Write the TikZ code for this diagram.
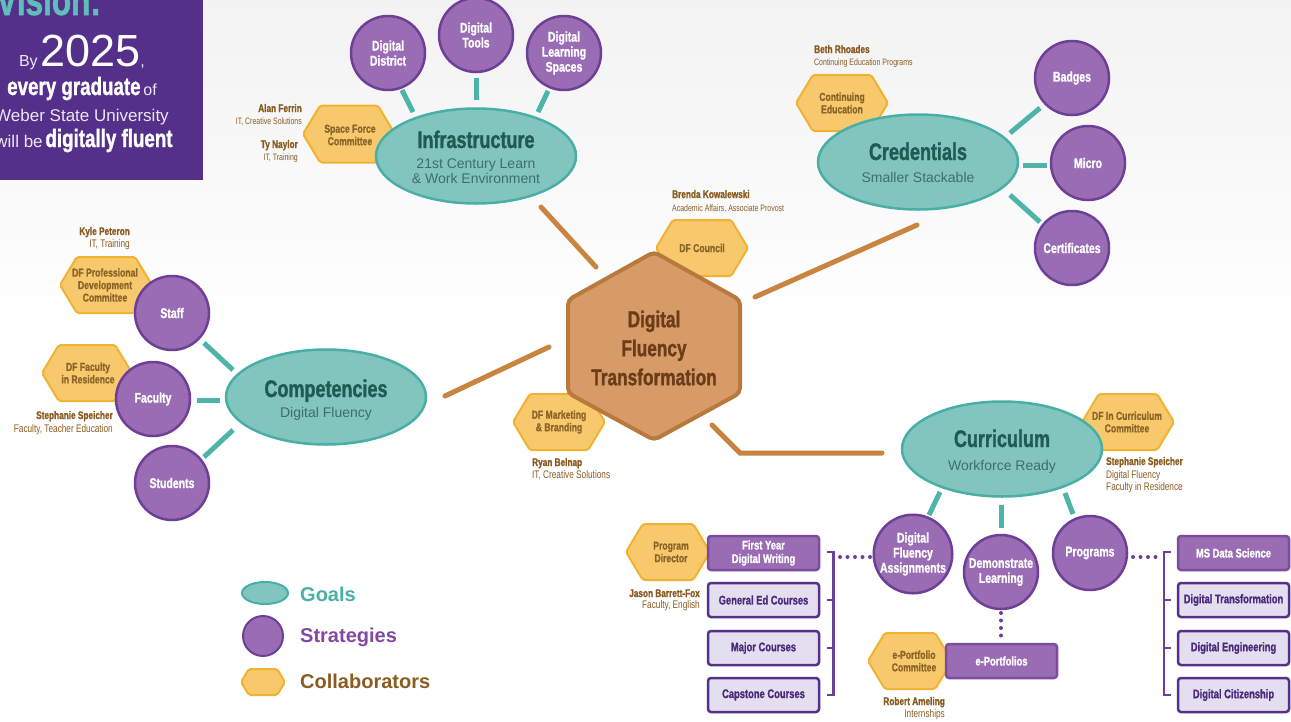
\documentclass[tikz,border=0pt]{standalone}
\usepackage{fontspec}
\setmainfont{Liberation Sans}
\newfontfamily\cnd[FakeStretch=0.75, BoldFeatures={FakeBold=1.2}]{Liberation Sans}
\usetikzlibrary{calc,shapes.geometric}
\definecolor{visP}{HTML}{54308A}
\definecolor{visT}{HTML}{5DBFB7}
\definecolor{goalF}{HTML}{82C5BF}
\definecolor{goalB}{HTML}{48AFA7}
\definecolor{goalT}{HTML}{1E5B52}
\definecolor{goalS}{HTML}{3F6E69}
\definecolor{stratF}{HTML}{9A6CB4}
\definecolor{stratB}{HTML}{6E3F97}
\definecolor{hexF}{HTML}{F8C96C}
\definecolor{hexB}{HTML}{F1B232}
\definecolor{hexT}{HTML}{8B6528}
\definecolor{nameT}{HTML}{8A5C22}
\definecolor{tealL}{HTML}{4DB4AB}
\definecolor{orangeL}{HTML}{C9853F}
\definecolor{cenF}{HTML}{D69B66}
\definecolor{cenB}{HTML}{B9783C}
\definecolor{cenT}{HTML}{6B3C18}
\definecolor{boxLF}{HTML}{E4DFF0}
\definecolor{boxLB}{HTML}{55308A}
\definecolor{boxDB}{HTML}{7B4CA0}
\definecolor{boxT}{HTML}{4A2A7A}
\definecolor{legS}{HTML}{8348A2}
\newcommand\fsz[2]{\fontsize{#1}{#2}\selectfont}
\newcommand\hexa[4]{\path[hexsty] ({#1-#3},#2) -- ({#1-#3+0.6*#4},{#2-#4}) -- ({#1+#3-0.6*#4},{#2-#4}) -- ({#1+#3},#2) -- ({#1+#3-0.6*#4},{#2+#4}) -- ({#1-#3+0.6*#4},{#2+#4}) -- cycle;}
\begin{document}
\begin{tikzpicture}[x=1pt,y=-1pt,
  goal/.style={ellipse, draw=goalB, fill=goalF, line width=2.5pt, minimum width=200pt, minimum height=95pt, inner sep=0pt},
  gtitle/.style={anchor=base, inner sep=0pt, font=\cnd\bfseries\fsz{24}{26}, text=goalT},
  gsub/.style={anchor=base, inner sep=0pt, font=\fsz{14}{16}, text=goalS},
  strat/.style={circle, draw=stratB, fill=stratF, line width=2.5pt, minimum size=74pt, inner sep=0pt, align=center, text=white, font=\cnd\bfseries\fsz{14}{15}},
  hexsty/.style={draw=hexB, fill=hexF, line width=2pt, rounded corners=2pt},
  hext/.style={align=center, inner sep=0pt, text=hexT, font=\cnd\bfseries\fsz{11.5}{12.5}},
  pname/.style={inner sep=0pt, text=nameT, font=\cnd\bfseries\fsz{11}{12}},
  paff/.style={inner sep=0pt, text=nameT, font=\cnd\fsz{9.3}{10}},
  pafb/.style={inner sep=0pt, text=nameT, font=\cnd\fsz{11}{12}},
  tline/.style={draw=tealL, line width=5pt},
  oline/.style={draw=orangeL, line width=5pt, line cap=round},
  boxd/.style={rectangle, rounded corners=3pt, draw=boxDB, fill=stratF, line width=2.5pt, minimum width=111pt, minimum height=34pt, inner sep=0pt, align=center, text=white, font=\cnd\bfseries\fsz{12.5}{13.5}},
  boxl/.style={boxd, draw=boxLB, fill=boxLF, text=boxT},
  dotl/.style={draw=stratB, line width=4pt, line cap=round, dash pattern=on 0pt off 7.5pt},
  brk/.style={draw=stratB, line width=2.5pt},
  vtxt/.style={anchor=base, inner sep=0pt, text=white!88!visP},
]
\useasboundingbox (0,0) rectangle (1291,721);
% background
\fill[top color=black!5, bottom color=white] (0,0) rectangle (1291,330);
\fill[white] (0,330) rectangle (1291,721);
% vision box
\fill[visP] (0,0) rectangle (203,180);
\node[anchor=base east, inner sep=0pt, font=\cnd\bfseries\fsz{42}{44}, text=visT] (vis) at (101,15) {Vision:};
\node[vtxt] (v1) at (82,66) {{\fsz{16}{18}By\,}{\color{white}\fsz{45}{48}2025}{\fsz{16}{18},}};
\node[vtxt] (v2) at (82,95) {{\color{white}\cnd\bfseries\fsz{25}{27}every graduate} {\fsz{16}{18}of}};
\node[vtxt] (v3) at (82,121) {\fsz{17}{19}Weber State University};
\node[vtxt] (v4) at (84,147) {{\fsz{17}{19}will be} {\color{white}\cnd\bfseries\fsz{25}{27}digitally fluent}};
% collaborator hexagons
\hexa{349}{134}{46}{28.5}
\hexa{842}{103}{46}{28}
\hexa{106}{285}{46}{28}
\hexa{87}{373}{45}{28}
\hexa{702}{248}{46}{28}
\hexa{559}{422}{46}{28}
\hexa{1128}{422}{46}{28}
\hexa{668}{552}{42}{28}
\hexa{910}{661}{42}{28}
% goals
\node[goal] (infra) at (476,156) {};
\node[goal] (cred) at (918,162) {};
\node[goal] (comp) at (326,397) {};
\node[goal] (curr) at (1002,449) {};
% strategies
\node[strat] (dd) at (388,53) {Digital\\District};
\node[strat] (dt) at (476,35) {Digital\\Tools};
\node[strat] (dls) at (564,53) {Digital\\Learning\\Spaces};
\node[strat] (badges) at (1072,78) {Badges};
\node[strat] (micro) at (1088,163) {Micro};
\node[strat] (cert) at (1072,248) {Certificates};
\node[strat] (staff) at (172,313) {Staff};
\node[strat] (fac) at (153,399) {Faculty};
\node[strat] (stu) at (172,483) {Students};
\node[strat] (dfa) at (913,554) {Digital\\Fluency\\Assignments};
\node[strat] (dem) at (1001,572) {Demonstrate\\Learning};
\node[strat] (prog) at (1090,553) {Programs};
% boxes
\node[boxd] (fy) at (763.5,553) {First Year\\Digital Writing};
\node[boxl] (ge) at (763.5,600) {General Ed Courses};
\node[boxl] (mc) at (763.5,648) {Major Courses};
\node[boxl] (cc) at (763.5,695) {Capstone Courses};
\node[boxd] (ms) at (1233.5,553) {MS Data Science};
\node[boxl] (dtr) at (1233.5,600) {Digital Transformation};
\node[boxl] (den) at (1233.5,648) {Digital Engineering};
\node[boxl] (dci) at (1233.5,695) {Digital Citizenship};
\node[boxd] (ep) at (1001.5,661) {e-Portfolios};
% center hexagon
\path[draw=cenB, fill=cenF, line width=4pt, rounded corners=5pt] (654,252) -- (740,300) -- (740,393) -- (654,440) -- (568,393) -- (568,300) -- cycle;
\node[align=center, inner sep=0pt, text=cenT, font=\cnd\bfseries\fsz{23}{29}] (dft) at (654,348) {Digital\\Fluency\\Transformation};
% orange connectors
\draw[oline] ($(infra)+(65,51)$) -- ($(dft)+(-58,-81)$);
\draw[oline] ($(cred)+(-1,63)$) -- ($(dft)+(101,-51)$);
\draw[oline] ($(dft)+(-105,-1)$) -- ($(comp)+(119,-1)$);
\draw[oline] ($(dft)+(58,77)$) -- ($(dft)+(86,105)$) -- ($(curr)+(-120,4)$);
% teal connectors
\draw[tline] ($(dd)+(14,37)$) -- ($(infra)+(-63,-44)$);
\draw[tline] ($(dt)+(0,43)$) -- ($(infra)+(0,-56)$);
\draw[tline] ($(dls)+(-16,38)$) -- ($(infra)+(62,-44)$);
\draw[tline] ($(cred)+(92,-29)$) -- ($(badges)+(-32,30)$);
\draw[tline] ($(cred)+(105,3)$) -- ($(micro)+(-41,2)$);
\draw[tline] ($(cred)+(92,33)$) -- ($(cert)+(-32,-26)$);
\draw[tline] ($(staff)+(32,30)$) -- ($(comp)+(-93,-27)$);
\draw[tline] ($(fac)+(44,1)$) -- ($(comp)+(-106,3)$);
\draw[tline] ($(stu)+(32,-26)$) -- ($(comp)+(-93,33)$);
\draw[tline] ($(curr)+(-62,43)$) -- ($(dfa)+(16,-39)$);
\draw[tline] ($(curr)+(-1,56)$) -- ($(dem)+(0,-44)$);
\draw[tline] ($(curr)+(63,44)$) -- ($(prog)+(-17,-39)$);
% dotted connectors and brackets
\draw[dotl] ($(dfa)+(-43,3)$) -- ($(fy.east)+(19,4)$);
\draw[dotl] ($(prog)+(43,4)$) -- ($(ms.west)+(-20,4)$);
\draw[dotl] ($(dem)+(0,41)$) -- ($(ep.north)+(-0.5,-7)$);
\draw[brk] ($(fy.east)+(7,-1)$) -- ++(6,0) |- ($(cc.east)+(7,0)$);
\draw[brk] ($(ge.east)+(7,0)$) -- ++(6,0);
\draw[brk] ($(mc.east)+(7,0)$) -- ++(6,0);
\draw[brk] ($(ms.west)+(-6,-1)$) -- ++(-7,0) |- ($(dci.west)+(-6,0)$);
\draw[brk] ($(dtr.west)+(-6,0)$) -- ++(-7,0);
\draw[brk] ($(den.west)+(-6,0)$) -- ++(-7,0);
% goal texts
\node[gtitle] (tinfra) at ($(infra)+(0,-8)$) {Infrastructure};
\node[gsub] (sinfra1) at (476,168) {21st Century Learn};
\node[gsub] (sinfra2) at (476,183) {\& Work Environment};
\node[gtitle] (tcred) at ($(cred)+(0,-2)$) {Credentials};
\node[gsub] (scred) at (918,182) {Smaller Stackable};
\node[gtitle] (tcomp) at ($(comp)+(0,0)$) {Competencies};
\node[gsub] (scomp) at (326,417) {Digital Fluency};
\node[gtitle] (tcurr) at ($(curr)+(0,-2)$) {Curriculum};
\node[gsub] (scurr) at (1002,470) {Workforce Ready};
% hexagon texts
\node[hext] (hsf) at (350,135) {Space Force\\Committee};
\node[hext] (hce) at (842,103) {Continuing\\Education};
\node[hext] (hpd) at (105,285) {DF Professional\\Development\\Committee};
\node[hext] (hfr) at (88,373) {DF Faculty\\in Residence};
\node[hext] (hdc) at (702,248) {DF Council};
\node[hext] (hmb) at (559,422) {DF Marketing\\\& Branding};
\node[hext] (hic) at (1127,422) {DF In Curriculum\\Committee};
\node[hext] (hpr) at (671,552) {Program\\Director};
\node[hext] (hep) at (914,661) {e-Portfolio\\Committee};
% people
\node[pname, anchor=base east] (nAF) at (302,112) {Alan Ferrin};
\node[paff, anchor=base east] (aAF) at (302,124) {IT, Creative Solutions};
\node[pname, anchor=base east] (nTN) at (298,148) {Ty Naylor};
\node[paff, anchor=base east] (aTN) at (298,160) {IT, Training};
\node[pname, anchor=base west] (nBR) at (814,53) {Beth Rhoades};
\node[paff, anchor=base west] (aBR) at (814,65) {Continuing Education Programs};
\node[pname, anchor=base east] (nKP) at (130,235) {Kyle Peteron};
\node[pafb, anchor=base east] (aKP) at (130,247) {IT, Training};
\node[pname, anchor=base east] (nSS) at (113,419) {Stephanie Speicher};
\node[pafb, anchor=base east] (aSS) at (113,432) {Faculty, Teacher Education};
\node[pname, anchor=base west] (nBK) at (672,198) {Brenda Kowalewski};
\node[paff, anchor=base west] (aBK) at (672,211) {Academic Affairs, Associate Provost};
\node[pname, anchor=base west] (nRB) at (532,466) {Ryan Belnap};
\node[pafb, anchor=base west] (aRB) at (532,478) {IT, Creative Solutions};
\node[pname, anchor=base west] (nSS2) at (1106,465) {Stephanie Speicher};
\node[pafb, anchor=base west] (aSS2) at (1106,478) {Digital Fluency};
\node[pafb, anchor=base west] (aSS3) at (1106,490) {Faculty in Residence};
\node[pname, anchor=base east] (nJB) at (700,597) {Jason Barrett-Fox};
\node[pafb, anchor=base east] (aJB) at (700,608) {Faculty, English};
\node[pname, anchor=base east] (nRA) at (945,705) {Robert Ameling};
\node[pafb, anchor=base east] (aRA) at (945,717) {Internships};
% legend
\node[ellipse, draw=goalB, fill=goalF, line width=2pt, minimum width=46pt, minimum height=22pt, inner sep=0pt] (lgoal) at (265,593) {};
\node[circle, draw=stratB, fill=stratF, line width=2pt, minimum size=40pt, inner sep=0pt] (lstrat) at (263,636) {};
\hexa{263}{682}{22}{13}
\node[anchor=base west, inner sep=0pt, font=\bfseries\fsz{20}{22}, text=goalB] (tgoals) at (300,601) {Goals};
\node[anchor=base west, inner sep=0pt, font=\bfseries\fsz{20}{22}, text=legS] (tstrat) at (300,642) {Strategies};
\node[anchor=base west, inner sep=0pt, font=\bfseries\fsz{20}{22}, text=nameT] (tcoll) at (300,688) {Collaborators};
\end{tikzpicture}
\end{document}
